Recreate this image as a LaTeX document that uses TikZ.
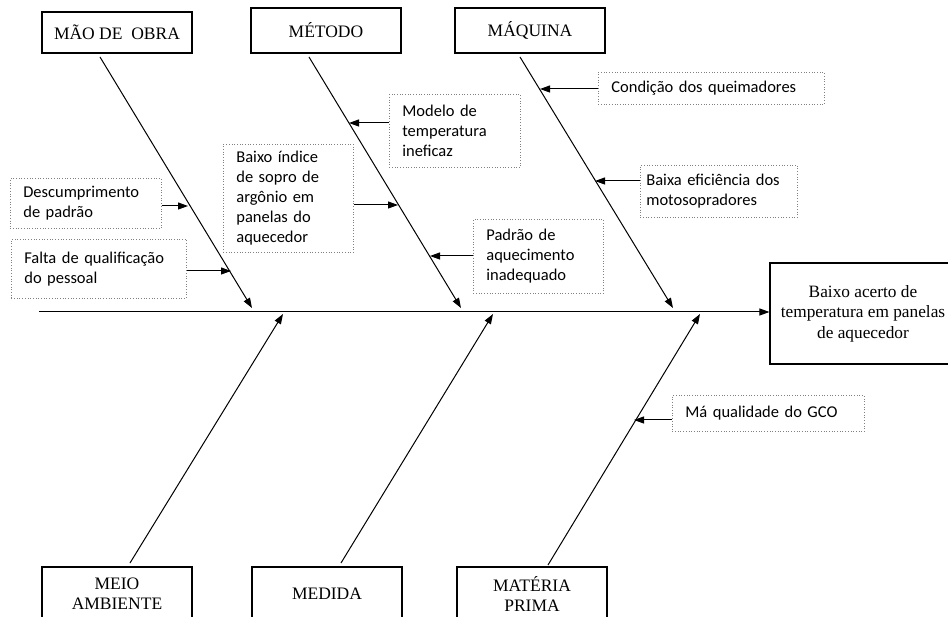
\documentclass[tikz,border=0pt]{standalone}
\usepackage{fontspec}
\setmainfont{Liberation Serif}
\newfontfamily\causefont{Carlito}
\usetikzlibrary{arrows.meta}

\begin{document}
\begin{tikzpicture}[x=1pt, y=-1pt,
  catbox/.style={draw, line width=1.1pt, minimum width=150pt, minimum height=45pt, align=center, font=\fontsize{17.5}{20}\selectfont},
  causebox/.style={draw=gray, dotted, line width=0.7pt, anchor=north west, align=left, inner xsep=13pt, inner ysep=4pt, font=\causefont\fontsize{16.5}{20}\selectfont},
  bone/.style={line width=1pt, -{Triangle[length=10pt,width=7pt]}},
  link/.style={line width=1pt, -{Triangle[length=10pt,width=7pt]}}]
  \useasboundingbox (0,0) rectangle (948,617);
  \clip (0,0) rectangle (948,617);

  % categories
  \node[catbox, minimum height=41pt] (mao) at (117,32.5) {MÃO DE\enspace OBRA};
  \node[catbox] (metodo) at (326,30.5) {MÉTODO};
  \node[catbox] (maquina) at (530,30.5) {MÁQUINA};
  \node[catbox, minimum height=54pt] (meio) at (117,594) {MEIO\\AMBIENTE};
  \node[catbox, minimum height=54pt] (medida) at (327,594) {MEDIDA};
  \node[catbox, minimum height=54pt] (materia) at (532,594) {MATÉRIA\\PRIMA};

  % effect
  \node[draw, line width=1.1pt, minimum width=186pt, minimum height=101pt, align=center, font=\fontsize{17.3}{20.5}\selectfont] (efeito) at (863,313.5) {Baixo acerto de\\temperatura em panelas\\de aquecedor};

  % causes
  \node[causebox, text width=125pt, minimum height=50pt] (desc) at (10,178) {Descumprimento\\de padrão};
  \node[causebox, text width=149pt, minimum height=59pt] (falta) at (11,239) {Falta de qualificação\\do pessoal};
  \node[causebox, text width=104pt, minimum height=108pt] (sopro) at (223,144) {Baixo índice\\de sopro de\\argônio em\\panelas do\\aquecedor};
  \node[causebox, text width=105pt, minimum height=73pt] (modelo) at (389,94) {Modelo de\\temperatura\\ineficaz};
  \node[causebox, text width=104pt, minimum height=74pt] (padrao) at (473,219) {Padrão de\\aquecimento\\inadequado};
  \node[causebox, text width=200pt, minimum height=32pt] (cond) at (598,72) {Condição dos queimadores};
  \node[causebox, inner xsep=6pt, text width=145pt, minimum height=52pt] (efic) at (640,165) {Baixa eficiência dos\\motosopradores};
  \node[causebox, text width=166pt, minimum height=36pt] (gco) at (672,395) {Má qualidade do GCO};

  % bone ends
  \coordinate (mao-a) at (100,57);   \coordinate (mao-b) at (252,308);
  \coordinate (met-a) at (309,57);   \coordinate (met-b) at (461,308);
  \coordinate (maq-a) at (520,57);   \coordinate (maq-b) at (673,308);
  \coordinate (meio-a) at (130,563); \coordinate (meio-b) at (283,314);
  \coordinate (med-a) at (341,563);  \coordinate (med-b) at (493,314);
  \coordinate (mat-a) at (548,565);  \coordinate (mat-b) at (700,314);
  \coordinate (spine) at (39,312);

  % points where the causes meet the bones
  \coordinate (p-desc) at (188,206);
  \coordinate (p-falta) at (231,271);
  \coordinate (p-sopro) at (398,205);
  \coordinate (p-modelo) at (349,123);
  \coordinate (p-padrao) at (430,256);
  \coordinate (p-cond) at (540,89);
  \coordinate (p-efic) at (595,181);
  \coordinate (p-gco) at (634,420);

  \draw[bone] (spine) -- (efeito.west |- spine);
  \draw[bone] (mao-a) -- (mao-b);
  \draw[bone] (met-a) -- (met-b);
  \draw[bone] (maq-a) -- (maq-b);
  \draw[bone] (meio-a) -- (meio-b);
  \draw[bone] (med-a) -- (med-b);
  \draw[bone] (mat-a) -- (mat-b);

  \draw[link] (desc.east |- p-desc) -- (p-desc);
  \draw[link] (falta.east |- p-falta) -- (p-falta);
  \draw[link] (sopro.east |- p-sopro) -- (p-sopro);
  \draw[link] (modelo.west |- p-modelo) -- (p-modelo);
  \draw[link] (padrao.west |- p-padrao) -- (p-padrao);
  \draw[link] (cond.west |- p-cond) -- (p-cond);
  \draw[link] (efic.west |- p-efic) -- (p-efic);
  \draw[link] (gco.west |- p-gco) -- (p-gco);
\end{tikzpicture}
\end{document}
